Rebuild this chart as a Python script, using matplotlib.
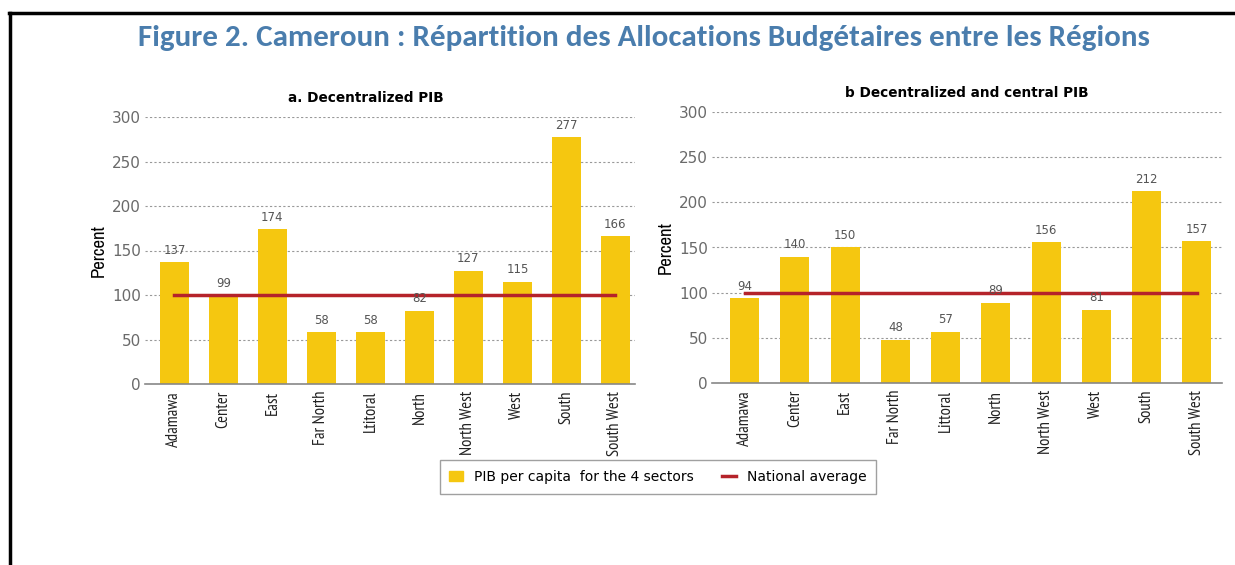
import numpy as np
import matplotlib
matplotlib.use('Agg')
import matplotlib.pyplot as plt
from matplotlib.lines import Line2D
from matplotlib.patches import Patch

regions_a = ['Adamawa', 'Center', 'East', 'Far North', 'Ltitoral', 'North',
             'North West', 'West', 'South', 'South West']
regions_b = ['Adamawa', 'Center', 'East', 'Far North', 'Littoral', 'North',
             'North West', 'West', 'South', 'South West']
pib_decentralized = [137, 99, 174, 58, 58, 82, 127, 115, 277, 166]
pib_dec_central = [94, 140, 150, 48, 57, 89, 156, 81, 212, 157]
national_avg = 100
y_ticks = [0, 50, 100, 150, 200, 250, 300]

bar_color = '#F5C710'
line_color = '#B5232A'
narrow = ['PT Sans Narrow', 'DejaVu Sans']
num_font = ['DejaVu Sans']

fig = plt.figure(figsize=(12.35, 5.65), dpi=100)

# frame lines top and left
fig.add_artist(Line2D([9/1235, 1], [1-13/565, 1-13/565], color='black', lw=2.5,
                      transform=fig.transFigure))
fig.add_artist(Line2D([10/1235, 10/1235], [0, 1-13/565], color='black', lw=2.5,
                      transform=fig.transFigure))

fig.text(644/1235, 1-38/565,
         'Figure 2. Cameroun : Répartition des Allocations Budgétaires entre les Régions',
         ha='center', va='center', fontsize=22.3, fontweight='bold', color='#4A7DAD',
         family=['Carlito', 'DejaVu Sans'])


def panel(rect, labels, values, title, title_x, xlim):
    ax = fig.add_axes(rect)
    x = np.arange(len(labels))
    ax.bar(x, values, width=0.58, color=bar_color, zorder=2)
    ax.plot([x[0], x[-1]], [national_avg, national_avg], color=line_color, lw=2.5, zorder=3)
    for xi, v in zip(x, values):
        ax.annotate(str(v), (xi, v), xytext=(0, 4), textcoords='offset points',
                    ha='center', va='bottom', fontsize=8.5, color='#555555', zorder=4,
                    family=num_font)
    ax.set_ylim(0, 300)
    ax.set_xlim(*xlim)
    ax.set_yticks(y_ticks)
    ax.set_yticklabels([str(t) for t in y_ticks], family=num_font)
    ax.set_xticks(x)
    ax.set_xticklabels(labels, rotation=90, fontsize=12, family=narrow, color='#222222')
    ax.tick_params(axis='y', length=0, labelsize=11, labelcolor='#6a6a6a', pad=3)
    ax.tick_params(axis='x', length=0, pad=5)
    ax.yaxis.grid(True, linestyle=(0, (2, 2)), color='#999999', lw=0.8, zorder=0)
    for s in ['top', 'right', 'left']:
        ax.spines[s].set_visible(False)
    ax.spines['bottom'].set_color('#888888')
    ax.spines['bottom'].set_linewidth(1.2)
    ax.set_ylabel('Percent', fontsize=13.5, fontweight='bold',
                  family=['Archivo Narrow', 'DejaVu Sans'], labelpad=4)
    ax.set_title(title, fontsize=9.8, fontweight='bold', x=title_x,
                 family=['DejaVu Sans'], pad=11)
    return ax


panel([145/1235, 1-384/565, 490/1235, 267/565], regions_a, pib_decentralized,
      'a. Decentralized PIB', 0.45, (-0.6, 9.4))
panel([712/1235, 1-383/565, 510/1235, 271/565], regions_b, pib_dec_central,
      'b Decentralized and central PIB', 0.5, (-0.65, 9.5))

handles = [Patch(color=bar_color, label='PIB per capita  for the 4 sectors'),
           Line2D([], [], color=line_color, lw=2.5, label='National average')]
fig.legend(handles=handles, loc='center', bbox_to_anchor=(658/1235, 1-477/565), ncol=2,
           prop={'family': num_font, 'size': 10}, frameon=True, fancybox=False,
           edgecolor='#888888', handlelength=1.0, handleheight=0.8, columnspacing=2.0,
           borderpad=0.7, borderaxespad=0)

fig.savefig('out.png', dpi=100, facecolor='white')
